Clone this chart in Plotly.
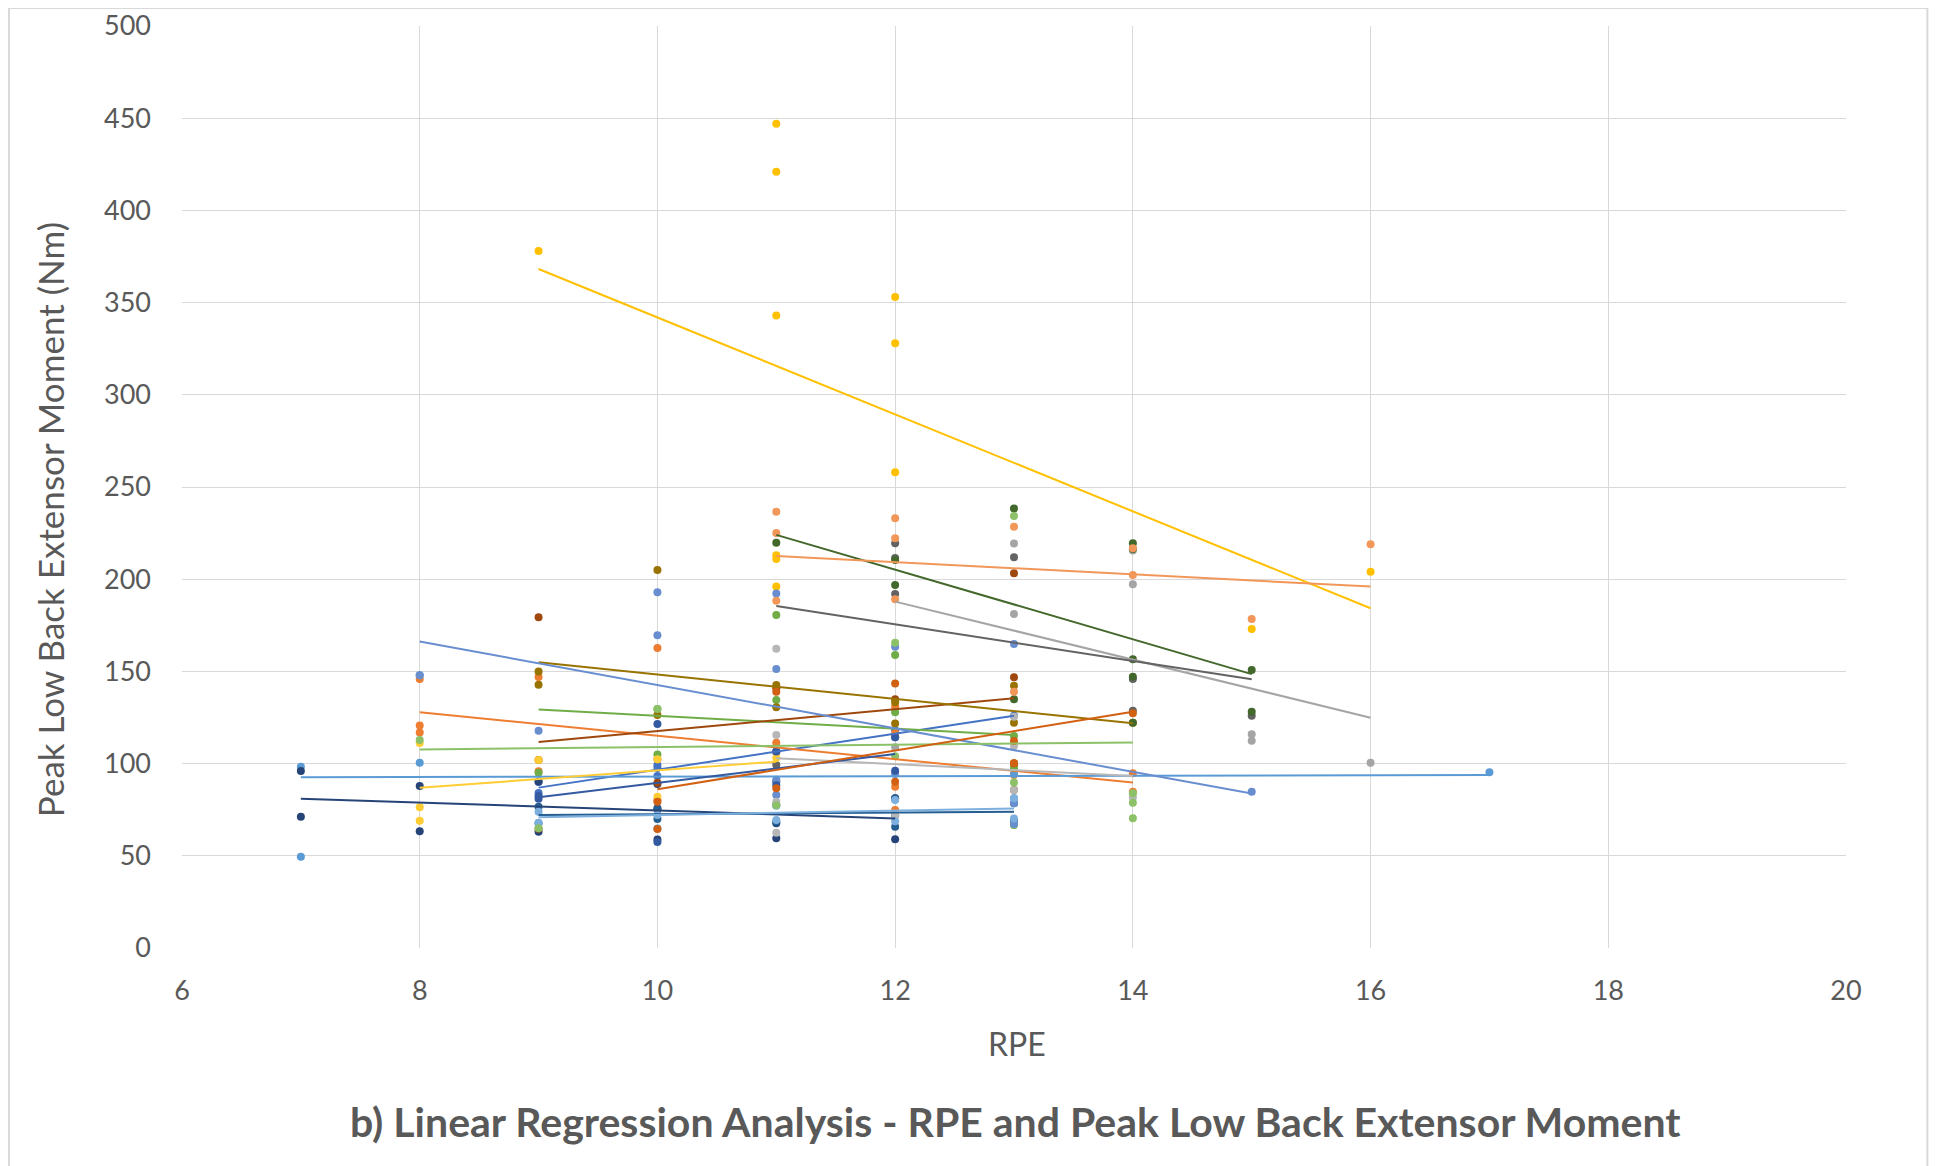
import numpy as np
import plotly.graph_objects as go

# RPE (x) and peak low back extensor moment in Nm (y), one pair of lists per participant
rpe_01 = [9, 9, 10, 10, 10, 11, 11, 12, 12, 13]
nm_01 = [90, 84, 99.2, 93.3, 97.6, 106.5, 106.4, 114.3, 118.1, 126]
rpe_02 = [8, 8, 8, 9, 9, 10, 10, 10, 11, 11, 12, 12, 12, 12, 13, 13, 14, 14]
nm_02 = [145.9, 116.8, 120.7, 147, 95.9, 162.7, 80.3, 102.3, 111.3, 106.2, 130.9, 87.5, 74.8, 116.4, 93.8, 98.3, 94.7, 84.7]
rpe_03 = [12, 13, 13, 14, 14, 15, 15, 16]
nm_03 = [108.8, 181.1, 219.4, 197.2, 215.6, 115.9, 112.4, 100.5]
rpe_04 = [9, 11, 11, 11, 11, 11, 11, 12, 12, 12, 15, 16]
nm_04 = [378, 447, 421, 343, 213, 211, 196, 353, 328, 258, 173, 204]
rpe_05 = [7, 7, 8, 8, 10, 13, 17]
nm_05 = [98.3, 49.5, 100.5, 147.9, 64.8, 94.4, 95.3]
rpe_06 = [9, 10, 10, 11, 11, 12, 12, 13, 13, 13]
nm_06 = [95.1, 129.6, 104.9, 180.6, 134.5, 158.9, 127.8, 115, 97.5, 66.7]
rpe_07 = [7, 7, 8, 8, 9, 9, 10, 10, 10, 11, 11, 11, 12, 12, 12]
nm_07 = [96, 71.2, 87.9, 63.3, 63.1, 90.3, 75.8, 58.9, 89, 90.2, 59.5, 67.6, 81.2, 59, 72.0]
rpe_08 = [9, 9, 9, 10, 11, 12, 13, 13, 13, 13]
nm_08 = [179.4, 64.7, 102, 89.6, 140.8, 134.9, 203.2, 146.8, 85.7, 100.2]
rpe_09 = [11, 12, 12, 12, 13, 14, 14, 15]
nm_09 = [99.3, 219.5, 192, 211.5, 211.9, 145.9, 128.7, 126]
rpe_10 = [9, 9, 10, 10, 11, 11, 12, 12, 13, 13, 14]
nm_10 = [150, 142.7, 205, 126.4, 142.6, 130.5, 121.8, 133.3, 142.2, 122.2, 122.2]
rpe_11 = [9, 9, 10, 10, 11, 11, 12, 12, 13, 13]
nm_11 = [76.6, 67.6, 75.2, 69.9, 77.5, 68.5, 81.2, 65.7, 78.5, 69.3]
rpe_12 = [11, 12, 12, 13, 13, 14, 14, 14, 14, 14, 15, 15]
nm_12 = [219.8, 210.4, 196.9, 238.4, 134.9, 219.5, 216.4, 156.6, 147.1, 122.2, 150.8, 128.1]
rpe_13 = [8, 9, 10, 10, 11, 11, 11, 11, 12, 12, 13, 13, 13, 13, 15]
nm_13 = [147.9, 117.8, 192.9, 169.6, 192.3, 151.3, 83, 91.3, 163.4, 94.4, 164.9, 81.2, 78.5, 67.2, 84.8]
rpe_14 = [11, 11, 11, 12, 12, 12, 13, 13, 14, 14, 15, 16]
nm_14 = [236.6, 188.3, 225, 233, 222.2, 189.1, 228.5, 139, 202.3, 216.8, 178.4, 218.9]
rpe_15 = [11, 11, 11, 11, 12, 13, 13, 13, 14]
nm_15 = [162.3, 115.5, 79.3, 62.5, 72.1, 125.4, 85.7, 109.6, 81.7]
rpe_16 = [8, 8, 8, 9, 10, 10, 11]
nm_16 = [76.3, 69, 111.2, 102, 102.3, 82, 103.1]
rpe_17 = [9, 9, 10, 11, 11, 12, 12, 13, 13]
nm_17 = [73.9, 67.9, 72.1, 69.4, 77.2, 80.3, 68.7, 81.2, 70.2]
rpe_18 = [8, 9, 10, 11, 12, 12, 13, 13, 14, 14, 14]
nm_18 = [112.8, 64.9, 129.6, 77.4, 165.6, 104, 234.3, 89.7, 83.9, 78.8, 70.3]
rpe_19 = [9, 9, 10, 10, 11, 11, 12, 12]
nm_19 = [82.4, 81, 121.5, 57.5, 106.5, 88.3, 114.3, 96.1]
rpe_20 = [10, 10, 11, 11, 12, 12, 13, 13, 14]
nm_20 = [79.3, 64.5, 139, 86.6, 143.5, 90.2, 100.2, 112.3, 127.3]

# Excel default series colours
colors = ["#4472C4", "#ED7D31", "#A5A5A5", "#FFC000", "#5B9BD5", "#70AD47",
          "#264478", "#9E480E", "#636363", "#997300", "#255E91", "#43682B",
          "#698ED0", "#F1975A", "#B7B7B7", "#FFCD33", "#7CAFDD", "#8CC168",
          "#335AA1", "#D26012"]

series = [(rpe_01, nm_01), (rpe_02, nm_02), (rpe_03, nm_03), (rpe_04, nm_04),
          (rpe_05, nm_05), (rpe_06, nm_06), (rpe_07, nm_07), (rpe_08, nm_08),
          (rpe_09, nm_09), (rpe_10, nm_10), (rpe_11, nm_11), (rpe_12, nm_12),
          (rpe_13, nm_13), (rpe_14, nm_14), (rpe_15, nm_15), (rpe_16, nm_16),
          (rpe_17, nm_17), (rpe_18, nm_18), (rpe_19, nm_19), (rpe_20, nm_20)]

fig = go.Figure()

for (x, y), c in zip(series, colors):
    fig.add_trace(go.Scatter(x=x, y=y, mode="markers",
                             marker=dict(color=c, size=8, line=dict(width=0)),
                             showlegend=False))

# linear trendlines over each participant's RPE range
for (x, y), c in zip(series, colors):
    slope, icpt = np.polyfit(x, y, 1)
    xs = [min(x), max(x)]
    fig.add_trace(go.Scatter(x=xs, y=[icpt + slope * v for v in xs], mode="lines",
                             line=dict(color=c, width=2), showlegend=False,
                             hoverinfo="skip"))

grey = "#595959"
fig.update_xaxes(range=[6, 20], dtick=2, showgrid=True, gridcolor="#D9D9D9",
                 gridwidth=1, zeroline=False, showline=False, automargin=False,
                 tickfont=dict(family="Lato", size=27, color=grey),
                 ticklabelstandoff=24)
fig.update_yaxes(range=[0, 500], dtick=50, showgrid=True, gridcolor="#D9D9D9",
                 gridwidth=1, zeroline=False, showline=False, automargin=False,
                 tickfont=dict(family="Lato", size=27, color=grey),
                 ticklabelstandoff=30)

# page body adds an 8px offset, so the figure is 8px smaller and margins shifted
fig.update_layout(
    width=1929, height=1158,
    margin=dict(l=174, r=91, t=18, b=218),
    plot_bgcolor="white", paper_bgcolor="white",
    font=dict(family="Lato", color=grey),
    shapes=[dict(type="rect", xref="paper", yref="paper",
                 x0=-0.1040, x1=1.0489, y0=-0.26, y1=1.0195,
                 line=dict(color="#D9D9D9", width=2), layer="below")],
    annotations=[
        dict(text="RPE", xref="paper", yref="paper", x=0.502, y=-0.104,
             xanchor="center", yanchor="middle", showarrow=False,
             font=dict(family="Lato", size=32, color=grey)),
        dict(text="Peak Low Back Extensor Moment (Nm)", xref="paper", yref="paper",
             x=-0.0794, y=0.465, textangle=-90, xanchor="center", yanchor="middle",
             showarrow=False, font=dict(family="Lato", size=35, color=grey)),
        dict(text="<b>b) Linear Regression Analysis - RPE and Peak Low Back Extensor Moment</b>",
             xref="paper", yref="paper", x=0.501, y=-0.1887,
             xanchor="center", yanchor="middle", showarrow=False,
             font=dict(family="Lato", size=41, color=grey)),
    ],
)

fig.write_html("out.html")
